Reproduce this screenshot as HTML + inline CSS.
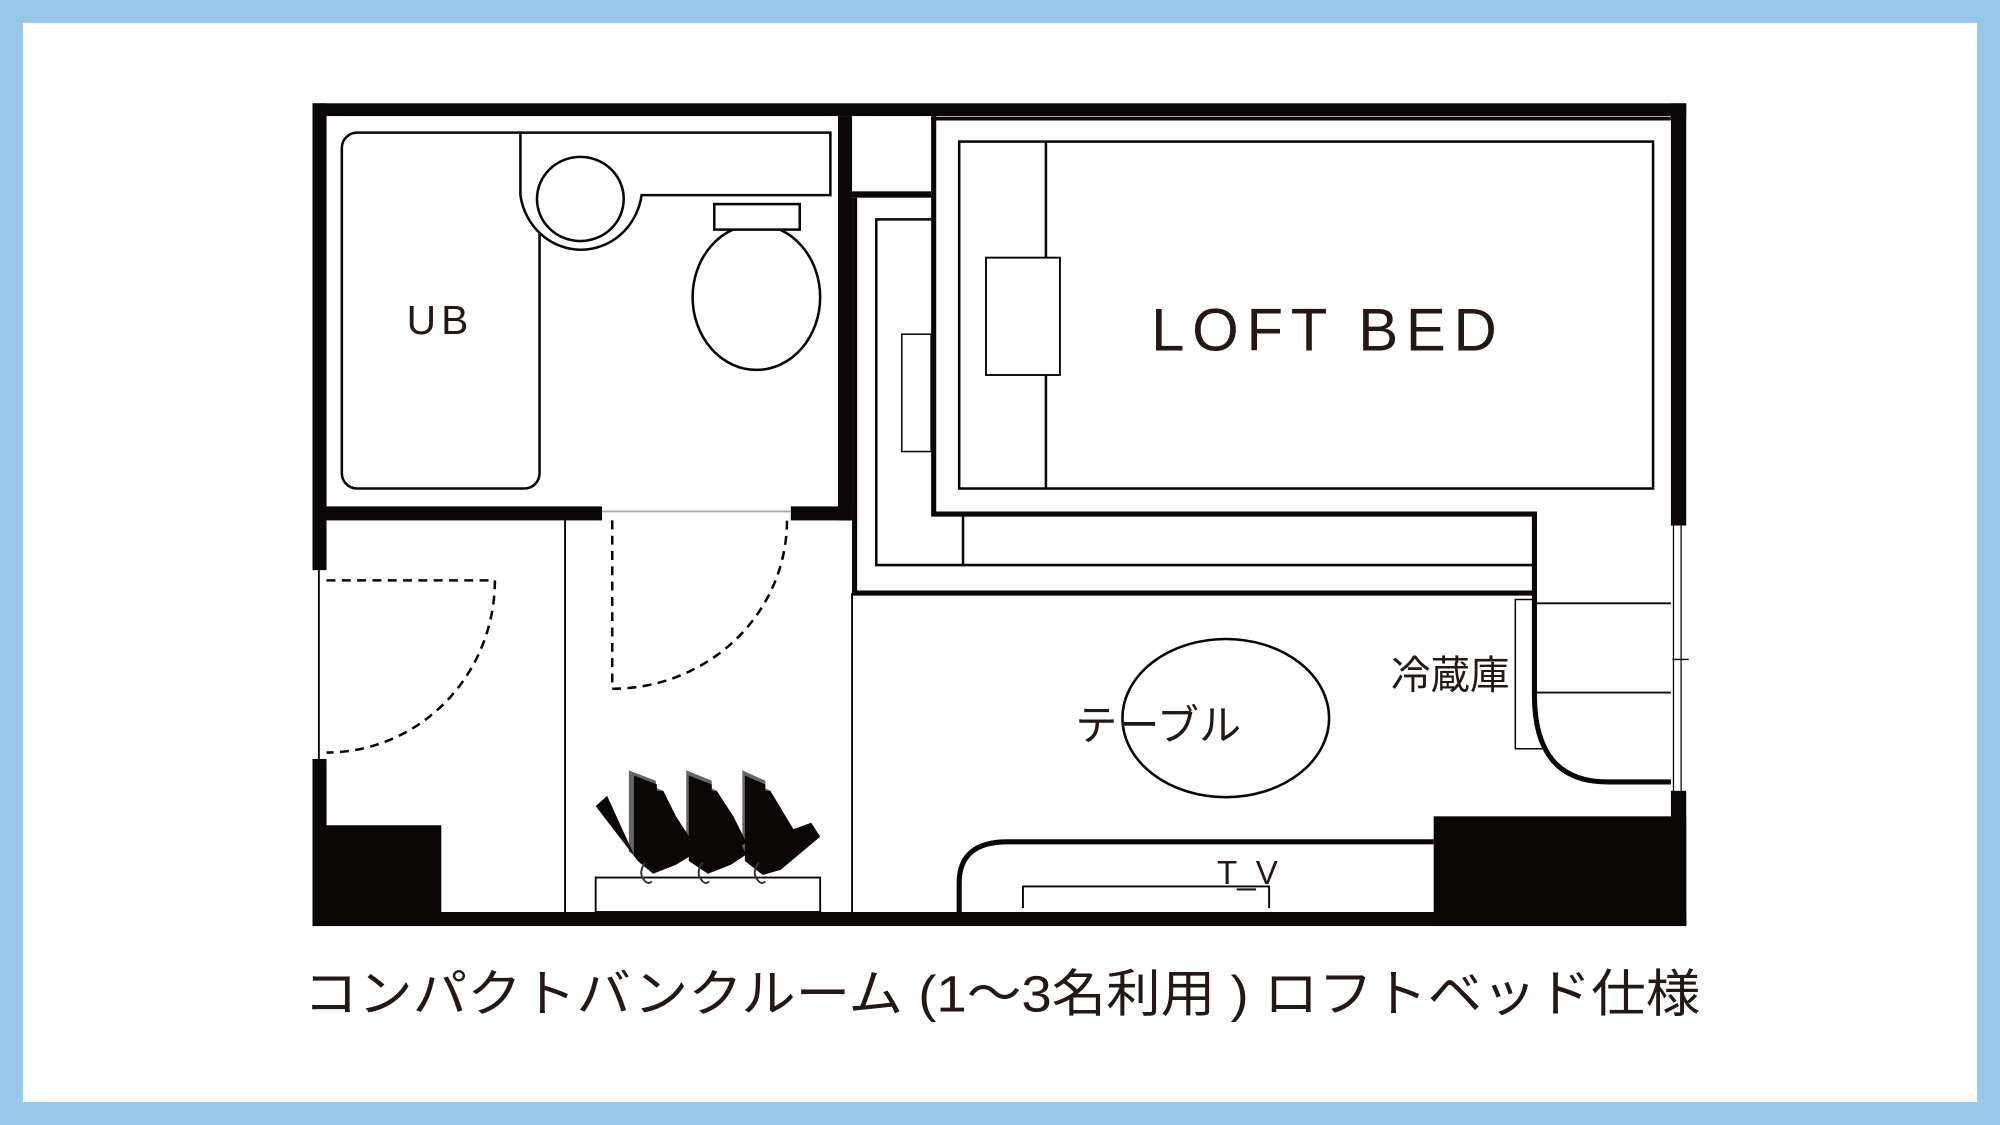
<!DOCTYPE html>
<html><head><meta charset="utf-8"><style>
html,body{margin:0;padding:0;background:#fff;}
svg{display:block;}
text{font-family:"Liberation Sans","Noto Sans CJK JP",sans-serif;fill:#231815;}
</style></head><body>
<svg width="2000" height="1125" viewBox="0 0 1568 882" preserveAspectRatio="none" xmlns="http://www.w3.org/2000/svg">
<rect x="0" y="0" width="1568" height="882" fill="#97c8ea"/>
<rect x="18" y="18" width="1532" height="846" fill="#fff"/>
<g fill="#0b0706">
<rect x="245" y="81" width="1077" height="10"/>
<rect x="245" y="81" width="11" height="366"/>
<rect x="245" y="595" width="11" height="131"/>
<rect x="245" y="715" width="1077" height="11"/>
<rect x="245" y="647" width="101" height="79"/>
<rect x="1124" y="640" width="198" height="86"/>
<rect x="1310" y="81" width="12" height="331"/>
<rect x="1310" y="620" width="12" height="106"/>
<rect x="657" y="91" width="11" height="317"/>
<rect x="245" y="397" width="227" height="11"/>
<rect x="620" y="397" width="48" height="11"/>
<rect x="668" y="150" width="62" height="5"/>
</g>
<g fill="none" stroke="#0b0706">
<line x1="472" y1="401" x2="620" y2="401" stroke="#aaa" stroke-width="1.5"/>
<line x1="250" y1="447" x2="250" y2="595" stroke-width="1.5"/>
<rect x="268" y="104" width="155" height="279" rx="12" stroke-width="2"/>
<path d="M408,104 L651,104 L651,153 L503,153 A48,50 0 0 1 408,153 Z" fill="#fff" stroke-width="2"/>
<ellipse cx="455" cy="156" rx="34" ry="33" stroke-width="2"/>
<ellipse cx="593" cy="233" rx="50" ry="57" fill="#fff" stroke-width="2"/>
<rect x="560" y="160" width="67" height="20" fill="#fff" stroke-width="2"/>
<path d="M732,91 L732,403 L1203,403 L1203,545 Q1203,613 1260,613 L1310,613" stroke-width="4"/>
<line x1="730" y1="93" x2="1310" y2="93" stroke-width="3"/>
<path d="M670,155 L670,465 L1203,465" stroke-width="4"/>
<path d="M730,172 L687,172 L687,443 L1203,443" stroke-width="2"/>
<line x1="755" y1="403" x2="755" y2="443" stroke-width="2"/>
<rect x="707" y="262" width="23" height="92" stroke-width="1.2"/>
<rect x="752" y="111" width="544" height="272" stroke-width="2"/>
<line x1="820" y1="111" x2="820" y2="383" stroke-width="2"/>
<rect x="773" y="202" width="58" height="92" fill="#fff" stroke-width="1.5"/>
<path d="M1203,470 L1188,470 L1188,587 L1210,587" stroke-width="1.2"/>
<line x1="1203" y1="473" x2="1310" y2="473" stroke-width="1.5"/>
<line x1="1203" y1="543" x2="1310" y2="543" stroke-width="1.5"/>
<line x1="1312" y1="412" x2="1312" y2="620" stroke-width="1"/>
<line x1="1318" y1="412" x2="1318" y2="620" stroke-width="1"/>
<line x1="1311" y1="517" x2="1324" y2="517" stroke-width="1"/>
<line x1="443" y1="408" x2="443" y2="715" stroke-width="1.5"/>
<line x1="668" y1="465" x2="668" y2="715" stroke-width="1.5"/>
<path d="M256,455 L388,455 A132,135 0 0 1 256,590" stroke-width="2" stroke-dasharray="7,5"/>
<path d="M480,408 L480,540 A137,132 0 0 0 617,408" stroke-width="2" stroke-dasharray="7,5"/>
<ellipse cx="961" cy="563" rx="81" ry="62" stroke-width="2"/>
<path d="M752,715 L752,692 Q752,660 790,660 L1124,660" stroke-width="4"/>
<path d="M802,712 L802,695 L995,695 L995,712" stroke-width="1.5"/>
<rect x="467" y="688" width="176" height="27" stroke-width="1.5"/>
</g>
<g>
<polygon points="493,604 514,612 515,618 520,620 520,680 493,668" fill="#666"/>
<polygon points="538,604 558,612 558,618 562,620 562,680 538,668" fill="#666"/>
<polygon points="582,604 600,612 600,618 604,620 604,680 582,668" fill="#666"/>
<g fill="#0b0706">
<polygon points="467,632 476,624 497,670 497,608 515,615 515,620 520,620 543,670 530,678 512,685 500,675"/>
<polygon points="540,608 558,615 558,620 562,620 585,670 573,678 555,685 540,675"/>
<polygon points="584,608 600,615 600,620 604,620 622,650 636,645 643,656 612,682 598,686 584,675"/>
<polygon points="520,620 530,640 543,660 535,670 520,660"/>
<polygon points="562,620 575,640 585,660 575,670 562,660"/>
</g>
</g>
<g fill="none" stroke="#333" stroke-width="1.5">
<path d="M506,676 q-6,8 -1,14 q3,4 6,1"/>
<path d="M551,676 q-6,8 -1,14 q3,4 6,1"/>
<path d="M595,676 q-6,8 -1,14 q3,4 6,1"/>
</g>
<text x="345" y="262" font-size="32" text-anchor="middle" letter-spacing="4">UB</text>
<text x="1041" y="275" font-size="47" text-anchor="middle" letter-spacing="6">LOFT BED</text>
<text x="908" y="580" font-size="33" text-anchor="middle">テーブル</text>
<text x="1137" y="540" font-size="31" text-anchor="middle">冷蔵庫</text>
<text x="978" y="693" font-size="26" text-anchor="middle">T_V</text>
<text x="238" y="793" font-size="40" textLength="1095" lengthAdjust="spacingAndGlyphs">コンパクトバンクルーム (1〜3名利用 ) ロフトベッド仕様</text>
</svg>
</body></html>
